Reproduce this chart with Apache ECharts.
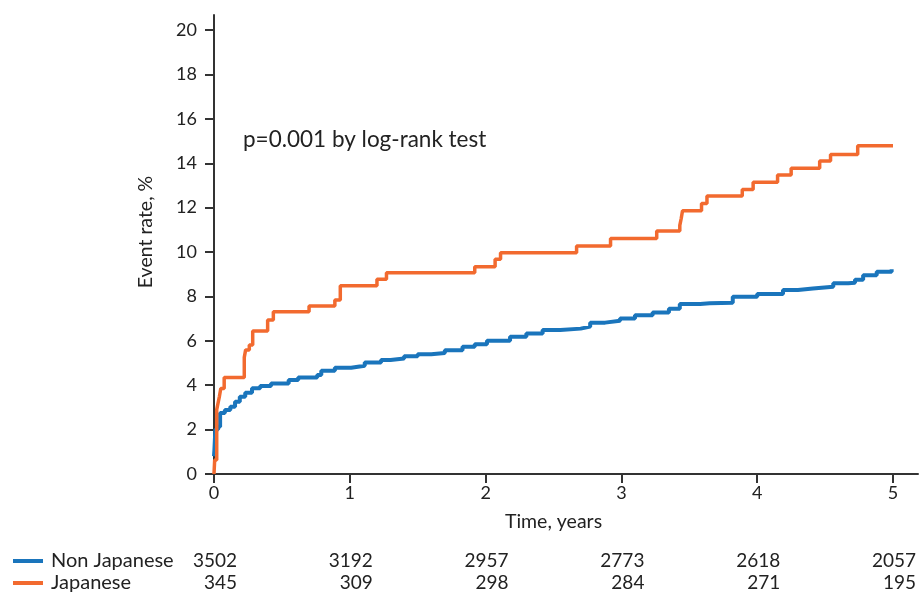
<!DOCTYPE html>
<html>
<head>
<meta charset="utf-8">
<script src="https://cdn.jsdelivr.net/npm/echarts@6/dist/echarts.min.js"></script>
<style>
html,body{margin:0;padding:0;background:#fff;}
#c{width:920px;height:595px;}
</style>
</head>
<body>
<div id="c"></div>
<script>
// ---- data ----
var seriesNames = ['Non Japanese', 'Japanese'];
var xTicks = [0, 1, 2, 3, 4, 5];
var yTicks = [0, 2, 4, 6, 8, 10, 12, 14, 16, 18, 20];
var nonJapanese = [
  [0,0.8],[0.003,1.08],[0.01,2.0],[0.03,2.13],[0.045,2.75],[0.08,2.88],[0.12,3.03],[0.155,3.26],
  [0.19,3.48],[0.23,3.66],[0.28,3.86],[0.34,3.96],[0.42,4.08],[0.55,4.23],[0.62,4.35],[0.76,4.46],
  [0.79,4.65],[0.89,4.79],[1.01,4.88],[1.11,5.02],[1.23,5.14],[1.3,5.2],[1.4,5.3],[1.5,5.4],
  [1.6,5.45],[1.7,5.58],[1.83,5.73],[1.92,5.85],[2.01,6.0],[2.18,6.18],[2.3,6.33],[2.42,6.49],
  [2.55,6.55],[2.7,6.64],[2.77,6.82],[2.88,6.9],[2.99,7.01],[3.1,7.15],[3.23,7.28],[3.35,7.45],
  [3.43,7.66],[3.58,7.69],[3.65,7.72],[3.82,7.99],[4.0,8.11],[4.19,8.29],[4.3,8.36],[4.41,8.44],
  [4.56,8.59],[4.67,8.62],[4.72,8.75],[4.78,8.96],[4.88,9.11],[4.99,9.23]
];
var japanese = [
  [0,0],[0.005,0.63],[0.02,2.9],[0.03,3.2],[0.04,3.5],[0.05,3.85],[0.075,4.35],[0.223,5.26],
  [0.233,5.59],[0.26,5.81],[0.285,6.44],[0.395,6.94],[0.437,7.31],[0.70,7.57],[0.89,7.84],
  [0.93,8.48],[1.2,8.77],[1.27,9.07],[1.92,9.34],[2.07,9.67],[2.11,9.97],[2.67,10.27],
  [2.92,10.61],[3.26,10.95],[3.43,11.2],[3.44,11.5],[3.45,11.86],[3.59,12.19],[3.63,12.52],
  [3.89,12.82],[3.97,13.14],[4.15,13.47],[4.25,13.77],[4.46,14.1],[4.54,14.4],[4.74,14.79],[5.0,14.79]
];
var riskTimes = [0, 1, 2, 3, 4, 5];
var nonJapaneseAtRisk = [3502, 3192, 2957, 2773, 2618, 2057];
var japaneseAtRisk = [345, 309, 298, 284, 271, 195];
var annotation = 'p=0.001 by log-rank test';

// ---- chart ----
var FONT = 'Lato';
var TXT = '#222';
var colors = ['#1a75bc', '#f26a2f'];
var chart = echarts.init(document.getElementById('c'), null, {renderer: 'canvas'});
function legendFor(name, top) {
  return {
    orient: 'horizontal', left: 13, top: top, padding: 0,
    icon: 'rect', itemWidth: 30, itemHeight: 4,
    textStyle: {fontFamily: FONT, fontSize: 20, color: TXT, lineHeight: 20, padding: [0, 0, 0, 3]},
    data: [name], selectedMode: false
  };
}
var option = {
  animation: false,
  color: colors,
  textStyle: {fontFamily: FONT, color: TXT},
  title: {
    text: annotation, left: 243, top: 128, padding: 0,
    textStyle: {fontFamily: FONT, fontSize: 22.5, fontWeight: 'normal', color: TXT}
  },
  legend: [legendFor(seriesNames[0], 551), legendFor(seriesNames[1], 573)],
  grid: {left: 209, right: 2, top: 15, bottom: 116, containLabel: false},
  xAxis: {
    type: 'value', min: -0.0368, max: 5.184,
    name: 'Time, years', nameLocation: 'middle', nameGap: 33,
    nameTextStyle: {fontFamily: FONT, fontSize: 19.5, color: TXT, padding: [0, 20, 0, 0]},
    axisLine: {show: true, lineStyle: {color: '#333', width: 2}},
    axisTick: {show: true, length: 9, lineStyle: {color: '#333', width: 2}, customValues: xTicks},
    axisLabel: {fontFamily: FONT, fontSize: 18, color: TXT, margin: 5, customValues: xTicks},
    splitLine: {show: false}
  },
  yAxis: {
    type: 'value', min: -0.225, max: 20.68,
    name: 'Event rate, %', nameLocation: 'middle', nameGap: 53, nameRotate: 90,
    nameTextStyle: {fontFamily: FONT, fontSize: 19.5, color: TXT, padding: [0, 0, 0, 30]},
    axisLine: {show: true, lineStyle: {color: '#333', width: 2}},
    axisTick: {show: true, length: 9, lineStyle: {color: '#333', width: 2}, customValues: yTicks},
    axisLabel: {fontFamily: FONT, fontSize: 18, color: TXT, margin: 12, customValues: yTicks},
    splitLine: {show: false}
  },
  series: [
    {name: seriesNames[0], type: 'line', step: 'end', data: nonJapanese, showSymbol: false,
     lineStyle: {width: 4, color: colors[0]}, z: 2},
    {name: seriesNames[1], type: 'line', step: 'end', data: japanese, showSymbol: false,
     lineStyle: {width: 3.5, color: colors[1]}, z: 3}
  ]
};
chart.setOption(option);

// risk table, positioned through the x axis scale
var elems = [];
var rows = [nonJapaneseAtRisk, japaneseAtRisk];
var rowY = [561, 583];
for (var r = 0; r < rows.length; r++) {
  for (var i = 0; i < riskTimes.length; i++) {
    var px = chart.convertToPixel({xAxisIndex: 0}, riskTimes[i]);
    elems.push({
      type: 'text', x: px + 23, y: rowY[r],
      style: {text: String(rows[r][i]), fontFamily: FONT, fontSize: 19, fill: TXT,
              textAlign: 'right', textVerticalAlign: 'middle'}
    });
  }
}
chart.setOption({graphic: elems});
</script>
</body>
</html>
